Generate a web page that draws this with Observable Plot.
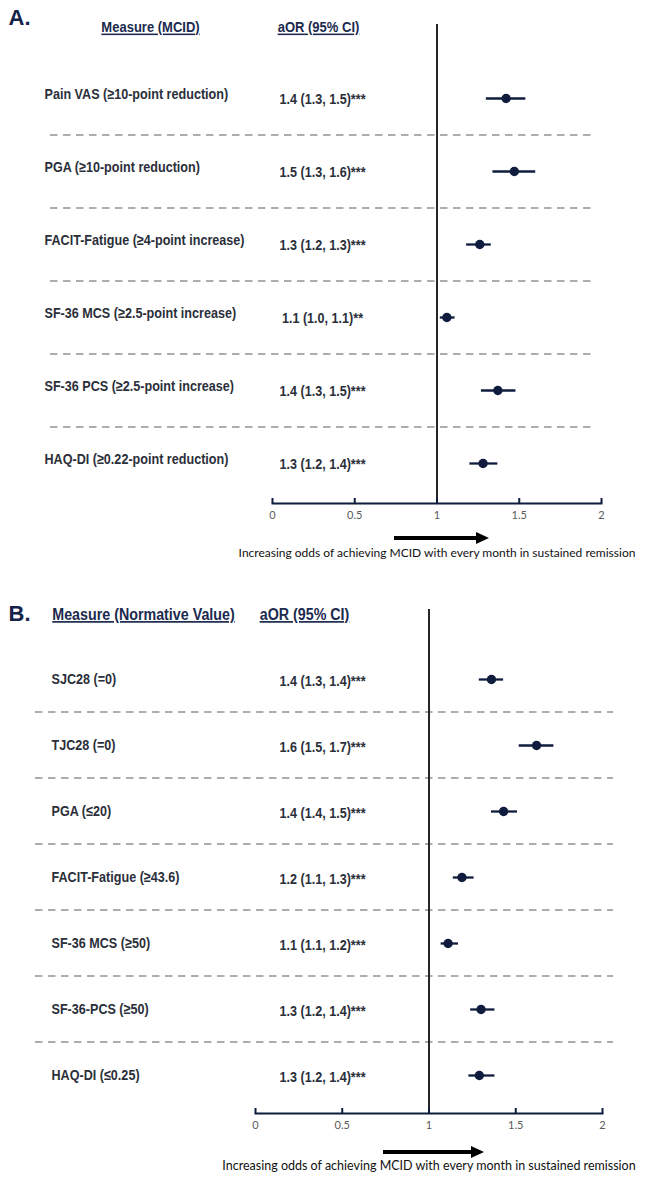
<!DOCTYPE html>
<html>
<head>
<meta charset="utf-8">
<script src="https://cdn.jsdelivr.net/npm/d3@7"></script>
<script src="https://cdn.jsdelivr.net/npm/@observablehq/plot@0.6"></script>
<style>
  body { margin: 0; background: #fff; width: 648px; }
  .caption { position: relative; width: 648px; }
  .arrow { position: absolute; height: 4px; background: #000; }
  .arrow::after {
    content: ""; position: absolute; right: -12px; top: -4px;
    border-left: 13px solid #000; border-top: 6px solid transparent; border-bottom: 6px solid transparent;
  }
  .caption-text {
    position: absolute; transform: translate(-50%, -50%); white-space: nowrap;
    font-family: Lato, "Open Sans", sans-serif; color: #111;
  }
</style>
</head>
<body>
<div id="chart"></div>
<script>
// Axis ticks shared by both panels
const xTicks = [0, 0.5, 1, 1.5, 2];

// Panel A: achieving the MCID
const measuresA = [
  "Pain VAS (≥10-point reduction)",
  "PGA (≥10-point reduction)",
  "FACIT-Fatigue (≥4-point increase)",
  "SF-36 MCS (≥2.5-point increase)",
  "SF-36 PCS (≥2.5-point increase)",
  "HAQ-DI (≥0.22-point reduction)"
];
const orA = [1.42, 1.47, 1.26, 1.06, 1.37, 1.28];
const loA = [1.30, 1.34, 1.18, 1.02, 1.27, 1.20];
const hiA = [1.54, 1.60, 1.33, 1.11, 1.48, 1.37];
const starsA = ["***", "***", "***", "**", "***", "***"];

// Panel B: achieving the normative value
const measuresB = [
  "SJC28 (=0)",
  "TJC28 (=0)",
  "PGA (≤20)",
  "FACIT-Fatigue (≥43.6)",
  "SF-36 MCS (≥50)",
  "SF-36-PCS (≥50)",
  "HAQ-DI (≤0.25)"
];
const orB = [1.36, 1.62, 1.43, 1.19, 1.11, 1.30, 1.29];
const loB = [1.29, 1.52, 1.36, 1.14, 1.07, 1.24, 1.23];
const hiB = [1.43, 1.72, 1.51, 1.26, 1.17, 1.38, 1.38];
const starsB = ["***", "***", "***", "***", "***", "***", "***"];

const captionText = "Increasing odds of achieving MCID with every month in sustained remission";

const navy = "#0f1c3d";
const labelFont = "'Liberation Sans Narrow', 'Arial Narrow', 'Liberation Sans', Arial, sans-serif";
const titleFont = "'Liberation Sans', Arial, sans-serif";
const axisFont = "Lato, 'Open Sans', sans-serif";
const narrow = 0.84; // horizontal squeeze giving the table text a condensed look

function rows(measures, or, lo, hi, stars) {
  return measures.map((measure, i) => ({
    measure, or: or[i], lo: lo[i], hi: hi[i],
    label: `${or[i].toFixed(1)} (${lo[i].toFixed(1)}, ${hi[i].toFixed(1)})${stars[i]}`
  }));
}

// Text elements of the marks tagged with the given description
function textsOf(svg, tag) {
  return svg.querySelectorAll(`g[aria-description="${tag}"] text`);
}

// Condense text horizontally around its anchor point
function condense(svg, tag) {
  textsOf(svg, tag).forEach(t => {
    const tr = t.getAttribute("transform");
    if (tr) {
      t.setAttribute("transform", `${tr} scale(${narrow},1)`);
    } else {
      const x = +(t.getAttribute("x") || 0), y = +(t.getAttribute("y") || 0);
      t.removeAttribute("x");
      t.removeAttribute("y");
      t.setAttribute("transform", `translate(${x},${y}) scale(${narrow},1)`);
    }
  });
}

function forest(p) {
  const {data, letter, headers, height, marginTop, marginLeft, marginRight, yRange} = p;
  const step = (yRange[1] - yRange[0]) / (data.length - 1);
  const frameRight = 648 - marginRight;
  const tableText = {fontSize: 15, fontWeight: "bold", fontFamily: labelFont, fill: "#2b2f3a"};
  const svg = Plot.plot({
    width: 648,
    height,
    marginTop,
    marginBottom: 25,
    marginLeft,
    marginRight,
    style: {background: "white", overflow: "visible"},
    x: {domain: [0, 2], label: null},
    y: {type: "point", domain: data.map(d => d.measure), range: yRange, padding: 0, axis: null, label: null},
    marks: [
      // dashed separators between rows, running under the label columns too
      Plot.ruleY(data.slice(1), {
        y: "measure", dy: -step / 2,
        stroke: "#adadad", strokeWidth: 2, strokeDasharray: "7.5,5.5",
        insetLeft: p.dashLeft - marginLeft, insetRight: frameRight - p.dashRight
      }),
      // line of no effect
      Plot.ruleX([1], {stroke: "#262626", strokeWidth: 2}),
      // x axis line and upward ticks
      Plot.frame({anchor: "bottom", stroke: navy, strokeWidth: 2}),
      Plot.axisX(xTicks, {
        tickSize: -5, tickPadding: 13, stroke: navy, strokeWidth: 2,
        tickFormat: d => `${d}`,
        fill: "#595959", fontSize: p.tickFontSize, fontFamily: axisFont, label: null
      }),
      // confidence intervals and point estimates
      Plot.ruleY(data, {y: "measure", x1: "lo", x2: "hi", stroke: navy, strokeWidth: 2.3}),
      Plot.dot(data, {x: "or", y: "measure", r: 4.7, fill: navy, stroke: null}),
      // measure names
      Plot.text(data, {
        y: "measure", text: "measure", frameAnchor: "left",
        dx: p.labelX - marginLeft, dy: p.labelDy, textAnchor: "start",
        ariaDescription: "measure", ...tableText
      }),
      // aOR (95% CI) column
      Plot.text(data, {
        y: "measure", text: "label", frameAnchor: "left",
        dx: p.valueX - marginLeft, dy: p.valueDy, textAnchor: "middle",
        ariaDescription: "estimate", ...tableText
      }),
      // panel letter
      Plot.text([letter], {
        text: d => d, frameAnchor: "top-left", dx: 8 - marginLeft, dy: p.letterDy,
        textAnchor: "start", lineAnchor: "middle",
        fontSize: 22, fontWeight: "bold", fontFamily: titleFont, fill: "#15234a"
      }),
      // column headers
      ...headers.map(h => Plot.text([h.text], {
        text: d => d, frameAnchor: "top-left", dx: h.x - marginLeft, dy: p.headerDy,
        textAnchor: "middle", lineAnchor: "middle", ariaDescription: "column header",
        ...tableText, fontSize: p.headerFontSize, fill: "#1b2a4e"
      }))
    ]
  });
  textsOf(svg, "column header").forEach(t => t.setAttribute("text-decoration", "underline"));
  ["measure", "estimate", "column header"].forEach(a => condense(svg, a));
  return svg;
}

function caption(c) {
  const div = document.createElement("div");
  div.className = "caption";
  div.style.height = c.height + "px";
  const arrow = document.createElement("div");
  arrow.className = "arrow";
  arrow.style.left = c.arrowLeft + "px";
  arrow.style.width = c.arrowWidth + "px";
  arrow.style.top = c.arrowTop + "px";
  const text = document.createElement("div");
  text.className = "caption-text";
  text.textContent = captionText;
  text.style.left = c.textCenter + "px";
  text.style.top = c.textMiddle + "px";
  text.style.fontSize = c.fontSize + "px";
  div.append(arrow, text);
  return div;
}

const chart = document.getElementById("chart");

chart.append(forest({
  data: rows(measuresA, orA, loA, hiA, starsA),
  letter: "A.",
  headers: [{text: "Measure (MCID)", x: 150}, {text: "aOR (95% CI)", x: 318}],
  headerFontSize: 15.5,
  height: 528, marginTop: 24, marginLeft: 272, marginRight: 47,
  yRange: [97.7, 463],
  dashLeft: 50, dashRight: 595,
  labelX: 44, labelDy: -4, valueX: 322, valueDy: 1,
  letterDy: -7, headerDy: 3, tickFontSize: 11
}));
chart.append(caption({
  height: 44, arrowLeft: 394, arrowWidth: 83, arrowTop: 8,
  textCenter: 437, textMiddle: 24, fontSize: 12
}));

chart.append(forest({
  data: rows(measuresB, orB, loB, hiB, starsB),
  letter: "B.",
  headers: [{text: "Measure (Normative Value)", x: 143}, {text: "aOR (95% CI)", x: 304}],
  headerFontSize: 17,
  height: 566, marginTop: 37, marginLeft: 255, marginRight: 46,
  yRange: [104, 505.7],
  dashLeft: 35, dashRight: 613,
  labelX: 51, labelDy: 0, valueX: 322, valueDy: 2,
  letterDy: 4, headerDy: 5, tickFontSize: 11
}));
chart.append(caption({
  height: 42, arrowLeft: 383, arrowWidth: 89, arrowTop: 12,
  textCenter: 429, textMiddle: 27, fontSize: 12.5
}));
</script>
</body>
</html>
